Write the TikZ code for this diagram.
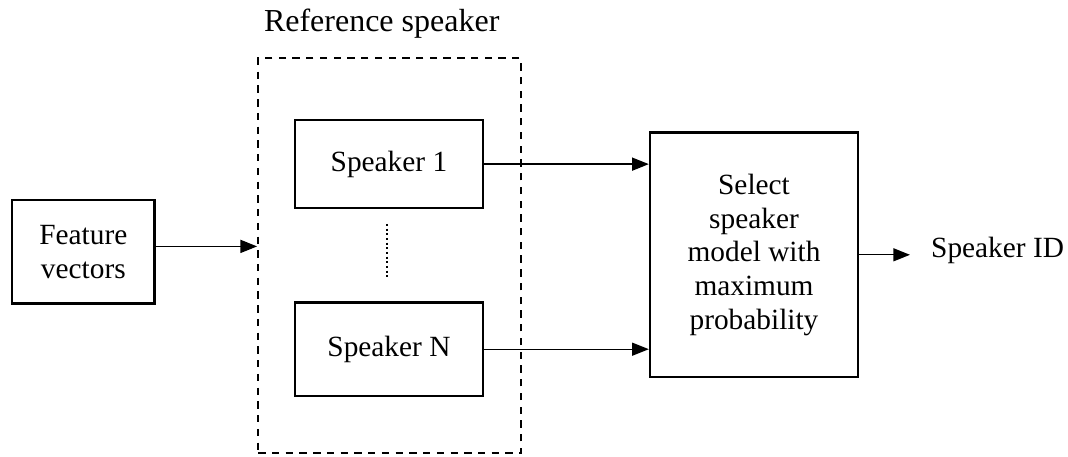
\documentclass[tikz,border=0pt]{standalone}
\usepackage{fontspec}
\setmainfont{Liberation Serif}
\usepackage{tikz}
\usetikzlibrary{positioning}
\usetikzlibrary{arrows.meta}
\tikzset{edge/.style = {->,> = {Triangle[length=12.5pt,width=9.75pt]},line width=1pt}}

\begin{document}
\begin{tikzpicture}[auto,node distance=138.8pt,thick,
    txt/.style={font=\fontsize{22}{25.3}\selectfont},
    main node/.style={rectangle,draw,line width=1.8pt,align=center,txt},
    group box/.style={rectangle,draw,line width=1.7pt,dash pattern=on 5.5pt off 4.8pt}]
            \useasboundingbox (0,0) rectangle (801pt,-342.75pt);

            \node[main node,minimum width=106.9pt,minimum height=77.5pt] (feat) at (62.5pt,-188.8pt) {Feature\\vectors};
            \node[group box,minimum width=197pt,minimum height=296.3pt] (ref) at (292.2pt,-191.85pt) {};
            \node[main node,minimum width=140.8pt,minimum height=66.2pt] (spk1) at (291.7pt,-123.1pt) {Speaker 1};
            \node[main node,minimum width=140.8pt,minimum height=69.8pt] (spkN) [below of=spk1] {Speaker N};
            \node[main node,minimum width=156pt,minimum height=183.4pt] (sel) at (565.5pt,-191.1pt) {Select\\speaker\\model with\\maximum\\probability};

            \node[anchor=base west,inner sep=0pt,font=\fontsize{24}{28}\selectfont] (reflabel) at (197.6pt,-23.6pt) {Reference speaker};
            \node[anchor=base west,inner sep=0pt,txt] (id) at (698pt,-193pt) {Speaker ID};

            % dots between the first and the last speaker
            \draw[line width=1.6pt,dash pattern=on 1.6pt off 1.9pt] ([shift={(-1.5pt,-10.8pt)}]spk1.south) -- ([shift={(-1.5pt,18.7pt)}]spkN.north);

            \draw[edge] ([yshift=4pt]feat.east) -- ([yshift=4pt]feat.east -| ref.west);
            \draw[edge] (spk1.east) -- (spk1.east -| sel.west);
            \draw[edge] (spkN.east) -- (spkN.east -| sel.west);
            \draw[edge,shorten >=15.5pt] (sel.east) -- (sel.east -| id.west);

        \end{tikzpicture}
\end{document}
